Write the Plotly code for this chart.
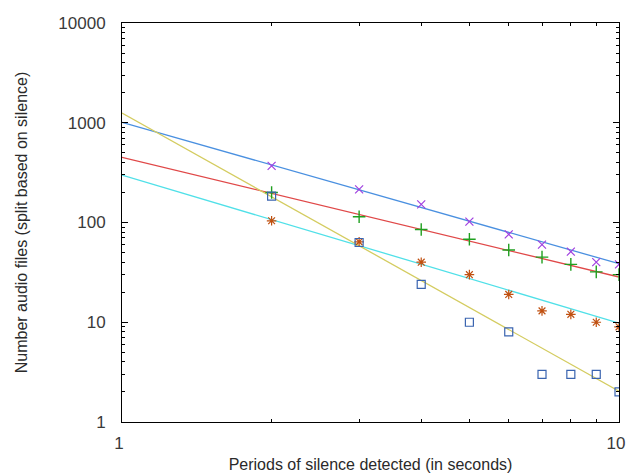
import numpy as np
import plotly.graph_objects as go

# Data
periods = [2, 3, 4, 5, 6, 7, 8, 9, 10]
series_x = [370, 215, 152, 102, 76, 60, 51, 40, 38]      # purple x
series_plus = [200, 114, 85, 68, 53, 45, 38, 32, 30]     # green +
series_star = [104, 64, 40, 30, 19, 13, 12, 10, 9]       # orange *
series_square = [184, 63, 24, 10, 8, 3, 3, 3, 2]         # blue squares

# Power-law fit curves a * x^b (parameters)
fit_x = (1009, -1.417)
fit_plus = (449, -1.199)
fit_star = (299, -1.484)
fit_square = (1253, -2.790)

x_ticks = [1, 10]
y_ticks = [1, 10, 100, 1000, 10000]

xs = np.linspace(1, 10, 100)

def curve(p):
    return p[0] * xs ** p[1]

fig = go.Figure()

fig.add_trace(go.Scatter(x=xs, y=curve(fit_x), mode="lines",
                         line=dict(color="#4a90e0", width=1.3), showlegend=False))
fig.add_trace(go.Scatter(x=xs, y=curve(fit_plus), mode="lines",
                         line=dict(color="#e04848", width=1.3), showlegend=False))
fig.add_trace(go.Scatter(x=xs, y=curve(fit_star), mode="lines",
                         line=dict(color="#50e0e8", width=1.3), showlegend=False))
fig.add_trace(go.Scatter(x=xs, y=curve(fit_square), mode="lines",
                         line=dict(color="#d4cc60", width=1.3), showlegend=False))

fig.add_trace(go.Scatter(x=periods, y=series_x, mode="markers",
                         marker=dict(symbol="x-thin", size=8, color="#a040e0",
                                     line=dict(color="#a040e0", width=1.2)),
                         showlegend=False))
fig.add_trace(go.Scatter(x=periods, y=series_plus, mode="markers",
                         marker=dict(symbol="cross-thin", size=9, color="#20a020",
                                     line=dict(color="#20a020", width=1.4)),
                         showlegend=False))
fig.add_trace(go.Scatter(x=periods, y=series_star, mode="markers",
                         marker=dict(symbol="asterisk", size=8, color="#c05010",
                                     line=dict(color="#c05010", width=1.2)),
                         showlegend=False))
fig.add_trace(go.Scatter(x=periods, y=series_square, mode="markers",
                         marker=dict(symbol="square-open", size=8, color="#3a64b0",
                                     line=dict(color="#3a64b0", width=1.2)),
                         showlegend=False))

axis_common = dict(
    showgrid=False, zeroline=False, automargin=False,
    showline=True, linecolor="black", linewidth=1, mirror="allticks",
    ticks="inside", ticklen=6, tickcolor="black", tickwidth=1,
    ticklabeloverflow="allow",
    tickfont=dict(family="Liberation Sans", size=17, color="#3a3a3a"),
)

fig.update_xaxes(type="log", range=[0, 1], tickvals=x_ticks,
                 ticktext=[str(v) for v in x_ticks],
                 ticklabelstandoff=6, ticklabelshift=-3,
                 minor=dict(tickvals=[2, 3, 4, 5, 6, 7, 8, 9], ticks="inside",
                            ticklen=3, tickcolor="black", showgrid=False),
                 title=dict(text="Periods of silence detected (in seconds)",
                            font=dict(family="Liberation Sans", size=16, color="#2a2a2a"),
                            standoff=6),
                 **axis_common)

y_minor = [m * d for d in [1, 10, 100, 1000] for m in range(2, 10)]
fig.update_yaxes(type="log", range=[0, 4], tickvals=y_ticks,
                 ticktext=[str(v) for v in y_ticks],
                 ticklabelstandoff=12,
                 minor=dict(tickvals=y_minor, ticks="inside",
                            ticklen=3, tickcolor="black", showgrid=False),
                 title=dict(text="Number audio files (split based on silence)",
                            font=dict(family="Liberation Sans", size=16, color="#2a2a2a"),
                            standoff=26),
                 **axis_common)

fig.update_layout(
    width=627, height=476,
    margin=dict(l=122, r=8, t=23, b=54),
    plot_bgcolor="white", paper_bgcolor="white",
    showlegend=False,
)

fig.write_html("out.html", config={"displayModeBar": False},
               post_script="document.body.style.margin='0';document.body.style.padding='0';")
